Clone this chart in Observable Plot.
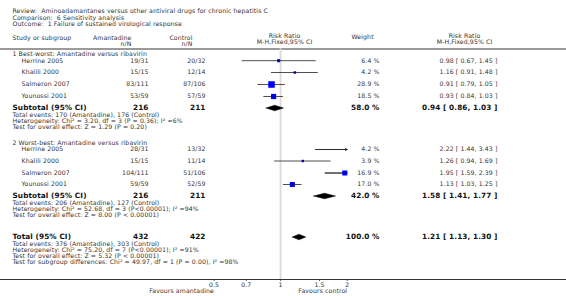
<!DOCTYPE html>
<html>
<head>
<meta charset="utf-8">
<script src="https://cdn.jsdelivr.net/npm/d3@7"></script>
<script src="https://cdn.jsdelivr.net/npm/@observablehq/plot@0.6"></script>
<style>
  html, body { margin: 0; padding: 0; background: #fff; }
  svg { display: block; }
</style>
</head>
<body>
<div id="chart"></div>
<script>
// ---------- data ----------
const titleLines = [
  "Review:  Aminoadamantanes versus other antiviral drugs for chronic hepatitis C",
  "Comparison:  6 Sensitivity analysis",
  "Outcome:  1 Failure of sustained virological response"
];
const studies = ["Herrine 2005", "Khalili 2000", "Salmeron 2007", "Younossi 2001"];
const groupNames = ["1 Best-worst: Amantadine versus ribavirin", "2 Worst-best: Amantadine versus ribavirin"];

const g1AmaEvents = [19, 15, 83, 53];
const g1AmaTotal  = [31, 15, 111, 59];
const g1CtlEvents = [20, 12, 87, 57];
const g1CtlTotal  = [32, 14, 106, 59];
const g1RR  = [0.98, 1.16, 0.91, 0.93];
const g1Lo  = [0.67, 0.91, 0.79, 0.84];
const g1Hi  = [1.45, 1.48, 1.05, 1.03];
const g1Wt  = [6.4, 4.2, 28.9, 18.5];

const g2AmaEvents = [28, 15, 104, 59];
const g2AmaTotal  = [31, 15, 111, 59];
const g2CtlEvents = [13, 11, 51, 52];
const g2CtlTotal  = [32, 14, 106, 59];
const g2RR  = [2.22, 1.26, 1.95, 1.13];
const g2Lo  = [1.44, 0.94, 1.59, 1.03];
const g2Hi  = [3.43, 1.69, 2.39, 1.25];
const g2Wt  = [4.2, 3.9, 16.9, 17.0];

const pooledLabels = ["Subtotal (95% CI)", "Subtotal (95% CI)", "Total (95% CI)"];
const pooledAmaN = [216, 216, 432];
const pooledCtlN = [211, 211, 422];
const pooledWt   = [58.0, 42.0, 100.0];
const pooledRR   = [0.94, 1.58, 1.21];
const pooledLo   = [0.86, 1.41, 1.13];
const pooledHi   = [1.03, 1.77, 1.30];

const g1Stats = [
  "Total events: 170 (Amantadine), 176 (Control)",
  "Heterogeneity: Chi² = 3.20, df = 3 (P = 0.36); I² =6%",
  "Test for overall effect: Z = 1.29 (P = 0.20)"
];
const g2Stats = [
  "Total events: 206 (Amantadine), 127 (Control)",
  "Heterogeneity: Chi² = 52.68, df = 3 (P<0.00001); I² =94%",
  "Test for overall effect: Z = 8.00 (P < 0.00001)"
];
const totalStats = [
  "Total events: 376 (Amantadine), 303 (Control)",
  "Heterogeneity: Chi² = 75.20, df = 7 (P<0.00001); I² =91%",
  "Test for overall effect: Z = 5.32 (P < 0.00001)",
  "Test for subgroup differences: Chi² = 49.97, df = 1 (P = 0.00), I² =98%"
];
const tickValues = [0.5, 0.7, 1, 1.5, 2];
const tickLabels = ["0.5", "0.7", "1", "1.5", "2"];
const favours = ["Favours amantadine", "Favours control"];

// ---------- layout (row positions, px) ----------
const W = 566, H = 296;
const xDomain = [0.5, 2];
const mL = 213.5, mR = W - 346.7, mB = 17;
const axisY = H - mB;
const rowY = {
  title: [11, 17.5, 24],
  head: [37.5, 43.5],
  rule: 48.5,
  g1Head: 54, g1: [60.2, 72, 84, 96], sub1: 107.5, g1Stats: [115, 121, 127],
  g2Head: 142.8, g2: [149, 160.5, 172.5, 184], sub2: 195.5, g2Stats: [203, 209, 215],
  total: 236.5, totalStats: [244, 250, 256, 262],
  favours: 290.5
};
const colX = { left: 12, study: 21, ama: 148, amaHead: 131, ctl: 205, ctlHead: 192,
  rrHead: 284, wtHead: 351, wt: 379, rrTxtHead: 464, rrTxt: 497 };

const fmt2 = d3.format(".2f"), fmt1 = d3.format(".1f");
const ciText = (r, l, h) => `${fmt2(r)} [ ${fmt2(l)}, ${fmt2(h)} ]`;

// study rows
const studyRows = [];
studies.forEach((s, i) => studyRows.push({g: 1, name: s, y: rowY.g1[i],
  ama: `${g1AmaEvents[i]}/${g1AmaTotal[i]}`, ctl: `${g1CtlEvents[i]}/${g1CtlTotal[i]}`,
  rr: g1RR[i], lo: g1Lo[i], hi: g1Hi[i], wt: g1Wt[i]}));
studies.forEach((s, i) => studyRows.push({g: 2, name: s, y: rowY.g2[i],
  ama: `${g2AmaEvents[i]}/${g2AmaTotal[i]}`, ctl: `${g2CtlEvents[i]}/${g2CtlTotal[i]}`,
  rr: g2RR[i], lo: g2Lo[i], hi: g2Hi[i], wt: g2Wt[i]}));

const pooledY = [rowY.sub1, rowY.sub2, rowY.total];
const pooledRows = pooledLabels.map((l, i) => ({label: l, y: pooledY[i], amaN: pooledAmaN[i],
  ctlN: pooledCtlN[i], wt: pooledWt[i], rr: pooledRR[i], lo: pooledLo[i], hi: pooledHi[i]}));

// diamonds
const dh = 2.8;
const diamondPts = [];
pooledRows.forEach((p, i) => {
  diamondPts.push({k: i, x: p.lo, y: p.y}, {k: i, x: p.rr, y: p.y - dh},
                  {k: i, x: p.hi, y: p.y}, {k: i, x: p.rr, y: p.y + dh}, {k: i, x: p.lo, y: p.y});
});

// text rows
const REG = 6.2, BOLD = 7.3;
const texts = [];
const T = (text, y, x, anchor = "start", opt = {}) => texts.push({text, y, x, anchor,
  size: opt.size || REG, weight: opt.bold ? "bold" : "normal", fill: opt.fill || "#333"});
titleLines.forEach((t, i) => T(t, rowY.title[i], colX.left));
T("Study or subgroup", rowY.head[0], colX.left);
T("Amantadine", rowY.head[0], colX.amaHead, "end");
T("n/N", rowY.head[1], colX.amaHead, "end");
T("Control", rowY.head[0], colX.ctlHead, "end");
T("n/N", rowY.head[1], colX.ctlHead, "end");
T("Risk Ratio", rowY.head[0] - 1.5, colX.rrHead, "middle");
T("M-H,Fixed,95% CI", rowY.head[1] - 1.5, colX.rrHead, "middle");
T("Weight", rowY.head[0] - 0.5, colX.wtHead);
T("Risk Ratio", rowY.head[0] - 1.5, colX.rrTxtHead, "middle");
T("M-H,Fixed,95% CI", rowY.head[1] - 1.5, colX.rrTxtHead, "middle");
T(groupNames[0], rowY.g1Head, colX.left);
T(groupNames[1], rowY.g2Head, colX.left);
studyRows.forEach(r => {
  T(r.name, r.y, colX.study);
  T(r.ama, r.y, colX.ama, "end");
  T(r.ctl, r.y, colX.ctl, "end");
  T(`${fmt1(r.wt)} %`, r.y, colX.wt, "end");
  T(ciText(r.rr, r.lo, r.hi), r.y, colX.rrTxt, "end");
});
pooledRows.forEach(p => {
  const o = {bold: true, size: BOLD, fill: "#111"};
  T(p.label, p.y, colX.left, "start", o);
  T(String(p.amaN), p.y, colX.ama, "end", o);
  T(String(p.ctlN), p.y, colX.ctl, "end", o);
  T(`${fmt1(p.wt)} %`, p.y, colX.wt, "end", o);
  T(ciText(p.rr, p.lo, p.hi), p.y, colX.rrTxt, "end", o);
});
g1Stats.forEach((t, i) => T(t, rowY.g1Stats[i], colX.left));
g2Stats.forEach((t, i) => T(t, rowY.g2Stats[i], colX.left));
totalStats.forEach((t, i) => T(t, rowY.totalStats[i], colX.left));

const textMarks = texts.map(t => Plot.text([t], {
  frameAnchor: "left", y: "y", text: "text", dx: t.x - mL, textAnchor: t.anchor,
  fontSize: t.size, fontWeight: t.weight, fill: t.fill
}));

const clampX = v => Math.max(xDomain[0], Math.min(xDomain[1], v));
const clippedHi = studyRows.filter(r => r.hi > xDomain[1]);
const visible = studyRows.filter(r => r.rr <= xDomain[1]);

const plot = Plot.plot({
  width: W, height: H,
  marginLeft: mL, marginRight: mR, marginTop: 0, marginBottom: mB,
  style: {fontFamily: "DejaVu Sans, sans-serif", background: "#fff", color: "#333",
          overflow: "visible", letterSpacing: "0.1px"},
  x: {type: "log", domain: xDomain, axis: null},
  y: {type: "linear", domain: [0, axisY], range: [0, axisY], axis: null},
  r: {type: "sqrt", domain: [0, 28.9], range: [0, 3.7]},
  marks: [
    // header rule (full width)
    Plot.ruleY([rowY.rule], {stroke: "#9a9a9a", strokeWidth: 2, insetLeft: -mL, insetRight: -mR}),
    // line of no effect
    Plot.ruleX([1], {y1: rowY.rule, y2: axisY, stroke: "#dcdcdc", strokeWidth: 2}),
    // confidence intervals
    Plot.ruleY(studyRows, {y: "y", x1: d => clampX(d.lo), x2: d => clampX(d.hi), stroke: "#222", strokeWidth: 0.8}),
    Plot.arrow(clippedHi, {x1: d => clampX(d.lo), x2: () => xDomain[1], y: "y", stroke: "#222",
      strokeWidth: 0.8, headLength: 4, bend: 0}),
    // squares
    Plot.dot(visible, {x: "rr", y: "y", r: "wt", symbol: "square", fill: "#0000ff", stroke: "none"}),
    Plot.dot(visible, {x: "rr", y: "y", r: 0.6, symbol: "square", fill: "#000"}),
    // diamonds
    Plot.line(diamondPts, {x: "x", y: "y", z: "k", fill: "#000", stroke: "#000", strokeWidth: 0.5, curve: "linear"}),
    // axis line (full width) and ticks
    Plot.ruleY([axisY], {stroke: "#333", strokeWidth: 1, insetLeft: -mL, insetRight: -mR}),
    Plot.ruleX(tickValues, {x: d => d, y1: axisY, y2: axisY + 2, stroke: "#333", strokeWidth: 0.8}),
    Plot.text(tickValues, {x: d => d, y: () => axisY + 5.5, text: (d, i) => tickLabels[i], fontSize: REG, fill: "#333"}),
    Plot.text([favours[0]], {frameAnchor: "left", y: () => rowY.favours, text: d => d, textAnchor: "end", fontSize: REG, fill: "#333"}),
    Plot.text([favours[1]], {frameAnchor: "right", y: () => rowY.favours, text: d => d, textAnchor: "end", fontSize: REG, fill: "#333"}),
    ...textMarks
  ]
});
document.getElementById("chart").appendChild(plot);
</script>
</body>
</html>
